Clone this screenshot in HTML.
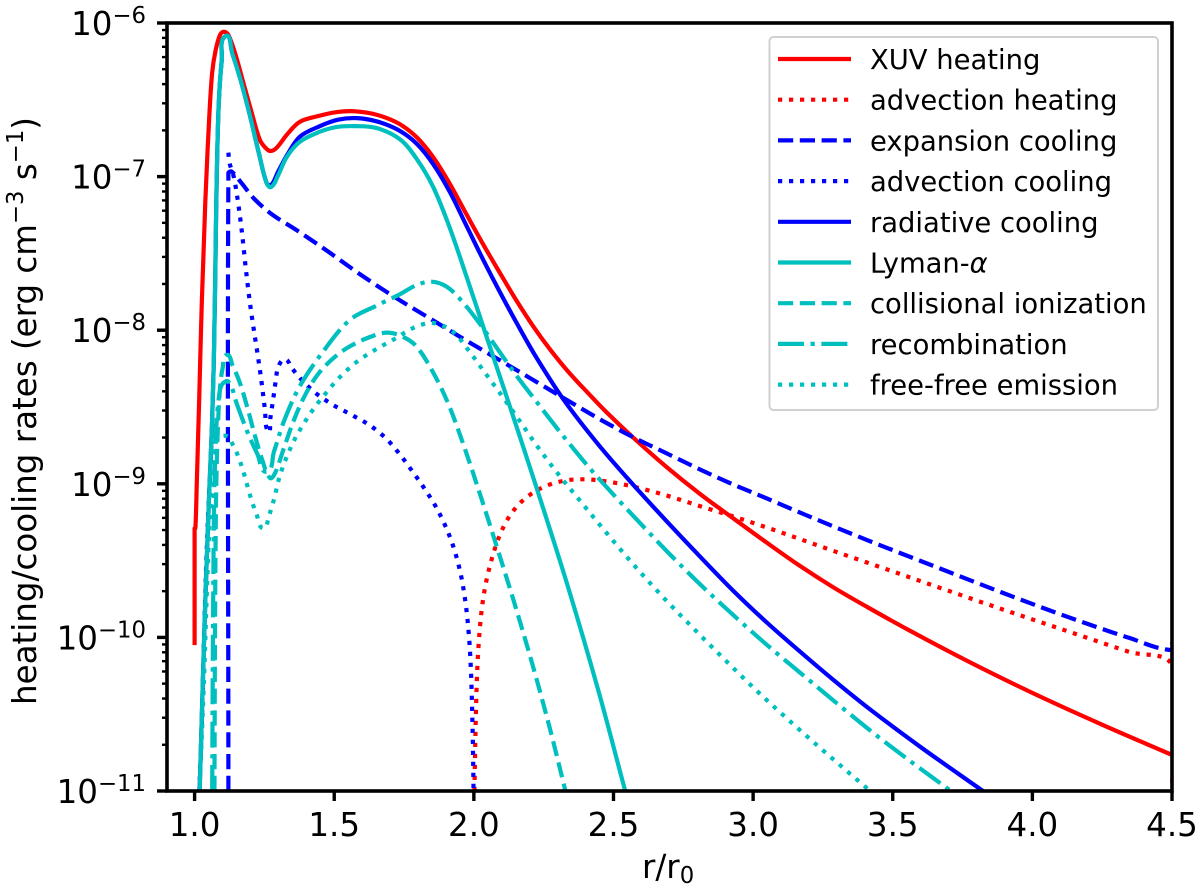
<!DOCTYPE html>
<html lang="en">
<head>
<meta charset="utf-8">
<title>Heating and cooling rates</title>
<style>
html,body{margin:0;padding:0;background:#fff;}
svg{display:block;font-family:"DejaVu Sans","Liberation Sans",sans-serif;fill:#000;}
</style>
</head>
<body>
<svg id="chart" width="1200" height="890" viewBox="0 0 1200 890" xmlns="http://www.w3.org/2000/svg">
  <defs><clipPath id="plot-clip"><rect x="167" y="23" width="1005" height="768"/></clipPath></defs>
  <rect x="167" y="23" width="1005" height="768" fill="#fff"/>
  <g id="series" clip-path="url(#plot-clip)"></g>
  <g id="ticks"></g>
  <rect x="167" y="23" width="1005" height="768" fill="none" stroke="#000" stroke-width="3.6"/>
  <text x="642" y="878" font-size="32.5">r/r<tspan font-size="22.75" dy="5">0</tspan></text>
  <text transform="translate(36 411) rotate(-90)" text-anchor="middle" font-size="32.5">heating/cooling rates (erg cm<tspan font-size="22.75" dy="-13">−3</tspan><tspan dy="13"> s</tspan><tspan font-size="22.75" dy="-13">−1</tspan><tspan dy="13">)</tspan></text>
  <g id="legend">
    <rect x="769.5" y="37" width="388.5" height="373" rx="4" fill="#fff" stroke="#d0d0d0" stroke-width="2"/>
  </g>
</svg>
<script>
const xuvR=[1.000,1.000,1.003,1.006,1.017,1.025,1.037,1.055,1.062,1.073,1.091,1.105,1.121,1.145,1.174,1.204,1.234,1.258,1.274,1.294,1.330,1.377,1.449,1.506,1.567,1.652,1.736,1.795,1.854,1.915,1.974,2.033,2.094,2.153,2.212,2.273,2.333,2.427,2.452,2.570,2.691,2.810,2.928,3.049,3.168,3.286,3.407,3.526,3.769,4.013,4.253,4.500];
const xuvLog=[-10.05,-9.29,-9.288,-9.105,-8.454,-7.803,-7.152,-6.501,-6.286,-6.176,-6.078,-6.057,-6.078,-6.176,-6.391,-6.586,-6.762,-6.820,-6.833,-6.812,-6.716,-6.643,-6.599,-6.576,-6.566,-6.586,-6.645,-6.729,-6.859,-7.042,-7.250,-7.445,-7.628,-7.814,-7.979,-8.129,-8.270,-8.441,-8.498,-8.702,-8.897,-9.073,-9.222,-9.385,-9.539,-9.678,-9.800,-9.925,-10.160,-10.378,-10.574,-10.765];

const advHeatR=[2.002,2.005,2.008,2.012,2.020,2.028,2.040,2.058,2.090,2.129,2.177,2.243,2.320,2.398,2.476,2.588,2.703,2.810,2.928,3.035,3.179,3.293,3.408,3.650,3.891,4.131,4.375,4.5,4.5];
const advHeatLog=[-11,-10.687,-10.407,-10.166,-9.951,-9.800,-9.659,-9.515,-9.320,-9.190,-9.090,-9.014,-8.970,-8.964,-8.980,-9.021,-9.079,-9.149,-9.209,-9.275,-9.366,-9.442,-9.512,-9.665,-9.819,-9.961,-10.114,-10.186,-11];

const expansionR=[1.121,1.121,1.133,1.163,1.209,1.270,1.352,1.473,1.592,1.710,1.854,1.974,2.094,2.212,2.333,2.452,2.570,2.691,2.810,2.928,3.049,3.168,3.408,3.650,3.891,4.131,4.375,4.497,4.5];
const expansionLog=[-11,-6.977,-6.968,-7.022,-7.152,-7.250,-7.326,-7.478,-7.641,-7.782,-7.933,-8.073,-8.194,-8.324,-8.454,-8.584,-8.702,-8.799,-8.910,-9.008,-9.092,-9.190,-9.370,-9.536,-9.711,-9.873,-10.027,-10.082,-10.017];

const advCoolR=[1.017,1.024,1.036,1.040,1.053,1.064,null,1.121,1.125,1.141,1.153,1.169,1.184,1.198,1.210,1.228,1.240,1.252,1.264,1.270,1.282,1.291,1.300,1.324,1.348,1.371,1.425,1.491,1.556,1.628,1.688,1.736,1.783,1.807,1.873,1.921,1.954,1.972,1.984,1.990,1.993,1.997,1.999];
const advCoolLog=[-11,-10.733,-9.867,-9.541,-8.995,-8.584,null,-6.844,-6.911,-6.977,-7.131,-7.326,-7.628,-7.829,-7.977,-8.181,-8.324,-8.539,-8.661,-8.584,-8.454,-8.303,-8.237,-8.189,-8.246,-8.303,-8.409,-8.487,-8.545,-8.610,-8.697,-8.806,-8.928,-8.986,-9.157,-9.353,-9.561,-9.767,-9.995,-10.190,-10.407,-10.687,-11];

const radiativeR=[1.018,1.037,1.053,1.064,1.069,1.073,1.079,1.084,1.097,1.111,1.133,1.163,1.198,1.234,1.258,1.274,1.294,1.330,1.377,1.449,1.513,1.580,1.652,1.736,1.795,1.854,1.915,1.974,2.033,2.094,2.153,2.212,2.308,2.452,2.570,2.691,2.810,2.928,3.049,3.168,3.286,3.408,3.590,3.823];
const radiativeLog=[-11,-9.756,-8.995,-8.584,-8.259,-7.803,-6.937,-6.501,-6.176,-6.085,-6.176,-6.350,-6.586,-6.892,-7.042,-7.055,-6.990,-6.846,-6.740,-6.664,-6.619,-6.610,-6.631,-6.690,-6.768,-6.905,-7.087,-7.326,-7.543,-7.758,-7.953,-8.148,-8.441,-8.767,-9.008,-9.247,-9.474,-9.702,-9.908,-10.093,-10.277,-10.459,-10.707,-11];

const lymanR=[1.018,1.037,1.053,1.064,1.069,1.073,1.079,1.084,1.097,1.111,1.133,1.163,1.198,1.234,1.258,1.274,1.294,1.330,1.377,1.449,1.506,1.567,1.652,1.736,1.795,1.854,1.915,1.974,2.033,2.122,2.212,2.333,2.452,2.541];
const lymanLog=[-11,-9.756,-8.995,-8.584,-8.259,-7.803,-6.937,-6.501,-6.176,-6.085,-6.176,-6.350,-6.586,-6.892,-7.042,-7.068,-7.022,-6.872,-6.773,-6.697,-6.671,-6.664,-6.684,-6.758,-6.866,-7.035,-7.326,-7.652,-7.977,-8.454,-8.954,-9.626,-10.362,-10.993];

const collisionalR=[1.071,1.073,1.076,1.084,1.091,1.098,1.115,1.133,1.163,1.192,1.216,1.246,1.270,1.288,1.318,1.353,1.389,1.437,1.485,1.545,1.616,1.688,1.747,1.795,1.855,1.908,1.962,2.022,2.082,2.147,2.213,2.273,2.328];
const collisionalLog=[-11,-9.756,-8.890,-8.584,-8.324,-8.239,-8.161,-8.213,-8.324,-8.519,-8.693,-8.888,-8.962,-8.931,-8.780,-8.584,-8.433,-8.280,-8.194,-8.107,-8.042,-8.016,-8.044,-8.107,-8.259,-8.454,-8.736,-9.062,-9.409,-9.778,-10.190,-10.583,-11];

const recombinationR=[1.063,1.066,1.069,1.077,1.085,1.097,1.121,1.151,1.187,1.228,1.258,1.282,1.312,1.366,1.449,1.556,1.664,1.736,1.795,1.849,1.903,1.950,2.022,2.094,2.153,2.225,2.320,2.416,2.523,2.607,2.708,2.822,2.941,3.060,3.180,3.299,3.418,3.553,3.708];
const recombinationLog=[-11,-9.756,-8.975,-8.584,-8.422,-8.357,-8.335,-8.474,-8.669,-8.823,-8.921,-8.823,-8.604,-8.368,-8.148,-7.933,-7.823,-7.771,-7.706,-7.684,-7.717,-7.782,-7.953,-8.148,-8.303,-8.465,-8.693,-8.910,-9.116,-9.279,-9.474,-9.680,-9.875,-10.071,-10.245,-10.429,-10.609,-10.795,-11];

const freeFreeR=[1.019,1.037,1.043,1.055,1.067,1.079,1.115,1.139,1.156,1.180,1.198,1.222,1.246,1.264,1.288,1.300,1.324,1.360,1.384,1.425,1.455,1.521,1.580,1.646,1.718,1.782,1.854,1.925,1.979,2.022,2.094,2.147,2.225,2.297,2.374,2.470,2.571,2.678,2.786,2.899,3.007,3.126,3.240,3.359,3.419];
const freeFreeLog=[-10.948,-10.192,-9.691,-9.105,-8.888,-8.715,-8.689,-8.741,-8.812,-8.943,-9.084,-9.214,-9.290,-9.235,-9.094,-8.954,-8.846,-8.693,-8.628,-8.508,-8.443,-8.292,-8.198,-8.124,-8.059,-7.986,-7.953,-8.010,-8.116,-8.237,-8.409,-8.541,-8.758,-8.931,-9.094,-9.312,-9.528,-9.745,-9.941,-10.147,-10.342,-10.537,-10.722,-10.906,-11];

const xTickValues=[1.0,1.5,2.0,2.5,3.0,3.5,4.0,4.5];
const xTickLabels=['1.0','1.5','2.0','2.5','3.0','3.5','4.0','4.5'];
const yTickExponents=[-6,-7,-8,-9,-10,-11];
const legendLabels=['XUV heating','advection heating','expansion cooling','advection cooling','radiative cooling','Lyman-α','collisional ionization','recombination','free-free emission'];

const NS='http://www.w3.org/2000/svg';
const LINE_W=4.2;
const DASH='15.2 6.6', DOT='4.2 6.8', DASHDOT='26 6.6 4.2 6.6';
const RED='#ff0000', BLUE='#0000ff', CYAN='#00bfbf';

function xPos(r){return 194.6+(r-1)*279.26;}
function yPos(logQ){return 23+(-6-logQ)*153.6;}

function make(tag,parent){
  const el=document.createElementNS(NS,tag);
  parent.appendChild(el);
  return el;
}

function heading(a,b){return Math.atan2(b[1]-a[1],b[0]-a[0]);}

function fair(points){
  const fixed=points.map(function(p,i){
    if(i===0||i===points.length-1){return true;}
    let turn=Math.abs(heading(p,points[i+1])-heading(points[i-1],p));
    if(turn>Math.PI){turn=2*Math.PI-turn;}
    return turn>0.3;
  });
  let cur=points;
  for(let pass=0;pass<2;pass++){
    cur=cur.map(function(p,i){
      if(fixed[i]){return p;}
      return [0.15*cur[i-1][0]+0.7*p[0]+0.15*cur[i+1][0],0.15*cur[i-1][1]+0.7*p[1]+0.15*cur[i+1][1]];
    });
  }
  return cur;
}

function smoothPath(rs,logs){
  let d='';
  let raw=[];
  function flush(){
    if(raw.length<2){raw=[];return;}
    const run=fair(raw);
    d+='M'+run[0][0].toFixed(2)+' '+run[0][1].toFixed(2);
    for(let i=0;i<run.length-1;i++){
      const a=run[i], b=run[i+1];
      const prev=run[Math.max(i-1,0)], next=run[Math.min(i+2,run.length-1)];
      const len=Math.hypot(b[0]-a[0],b[1]-a[1]);
      let t1=[b[0]-prev[0],b[1]-prev[1]], t2=[next[0]-a[0],next[1]-a[1]];
      const n1=Math.hypot(t1[0],t1[1])||1, n2=Math.hypot(t2[0],t2[1])||1;
      const c1=[a[0]+t1[0]/n1*len/3,a[1]+t1[1]/n1*len/3];
      const c2=[b[0]-t2[0]/n2*len/3,b[1]-t2[1]/n2*len/3];
      d+='C'+c1[0].toFixed(2)+' '+c1[1].toFixed(2)+' '+c2[0].toFixed(2)+' '+c2[1].toFixed(2)+' '+b[0].toFixed(2)+' '+b[1].toFixed(2);
    }
    raw=[];
  }
  for(let i=0;i<rs.length;i++){
    if(rs[i]===null){flush();continue;}
    raw.push([xPos(rs[i]),yPos(logs[i])]);
  }
  flush();
  return d;
}

function styleLine(el,color,dash){
  el.setAttribute('fill','none');
  el.setAttribute('stroke',color);
  el.setAttribute('stroke-width',LINE_W);
  el.setAttribute('stroke-linejoin','round');
  if(dash){el.setAttribute('stroke-dasharray',dash);}
}

const seriesGroup=document.getElementById('series');
const ticksGroup=document.getElementById('ticks');
const legendGroup=document.getElementById('legend');

const curves=[
  {key:'xuv-heating-line',r:xuvR,v:xuvLog,c:RED,d:null},
  {key:'advection-heating-line',r:advHeatR,v:advHeatLog,c:RED,d:DOT},
  {key:'expansion-cooling-line',r:expansionR,v:expansionLog,c:BLUE,d:DASH},
  {key:'advection-cooling-line',r:advCoolR,v:advCoolLog,c:BLUE,d:DOT},
  {key:'radiative-cooling-line',r:radiativeR,v:radiativeLog,c:BLUE,d:null},
  {key:'lyman-alpha-line',r:lymanR,v:lymanLog,c:CYAN,d:null},
  {key:'collisional-ionization-line',r:collisionalR,v:collisionalLog,c:CYAN,d:DASH},
  {key:'recombination-line',r:recombinationR,v:recombinationLog,c:CYAN,d:DASHDOT},
  {key:'free-free-emission-line',r:freeFreeR,v:freeFreeLog,c:CYAN,d:DOT}
];

curves.forEach(function(s){
  const path=make('path',seriesGroup);
  
  
  path.setAttribute('d',smoothPath(s.r,s.v));
  styleLine(path,s.c,s.d);
});

xTickValues.forEach(function(v,i){
  const x=xPos(v);
  const tick=make('line',ticksGroup);
  
  
  tick.setAttribute('x1',x);tick.setAttribute('x2',x);
  tick.setAttribute('y1',791);tick.setAttribute('y2',801);
  tick.setAttribute('stroke','#000');tick.setAttribute('stroke-width',3.4);
  const label=make('text',ticksGroup);
  
  
  label.setAttribute('x',x);label.setAttribute('y',836);
  label.setAttribute('text-anchor','middle');
  label.setAttribute('font-size','32.5');
  label.textContent=xTickLabels[i];
});

yTickExponents.forEach(function(e){
  const y=yPos(e);
  const tick=make('line',ticksGroup);
  
  
  tick.setAttribute('x1',157);tick.setAttribute('x2',167);
  tick.setAttribute('y1',y);tick.setAttribute('y2',y);
  tick.setAttribute('stroke','#000');tick.setAttribute('stroke-width',3.4);
  const label=make('text',ticksGroup);
  
  
  label.setAttribute('x',146);label.setAttribute('y',y+12);
  label.setAttribute('text-anchor','end');
  label.setAttribute('font-size','32.5');
  label.appendChild(document.createTextNode('10'));
  const sup=make('tspan',label);
  sup.setAttribute('font-size','22.75');
  sup.setAttribute('dy','-12');
  sup.textContent='\u2212'+Math.abs(e);
  if(e>-11){
    for(let m=2;m<=9;m++){
      const my=yPos(e-1+Math.log10(m));
      const minor=make('line',ticksGroup);
      
      
      minor.setAttribute('x1',162);minor.setAttribute('x2',167);
      minor.setAttribute('y1',my);minor.setAttribute('y2',my);
      minor.setAttribute('stroke','#000');minor.setAttribute('stroke-width',2.4);
    }
  }
});

const legendTop=59, legendStep=40.7;
legendLabels.forEach(function(name,i){
  const y=legendTop+i*legendStep;
  const handle=make('line',legendGroup);
  
  
  handle.setAttribute('x1',778);handle.setAttribute('x2',851);
  handle.setAttribute('y1',y);handle.setAttribute('y2',y);
  styleLine(handle,curves[i].c,curves[i].d);
  const label=make('text',legendGroup);
  
  
  label.setAttribute('x',870);label.setAttribute('y',y+10);
  label.setAttribute('font-size','27.4');
  if(name.endsWith('α')){
    label.appendChild(document.createTextNode(name.slice(0,-1)));
    const greek=make('tspan',label);
    greek.setAttribute('font-style','italic');
    greek.textContent='α';
  }else{
    label.textContent=name;
  }
});
</script>
</body>
</html>
